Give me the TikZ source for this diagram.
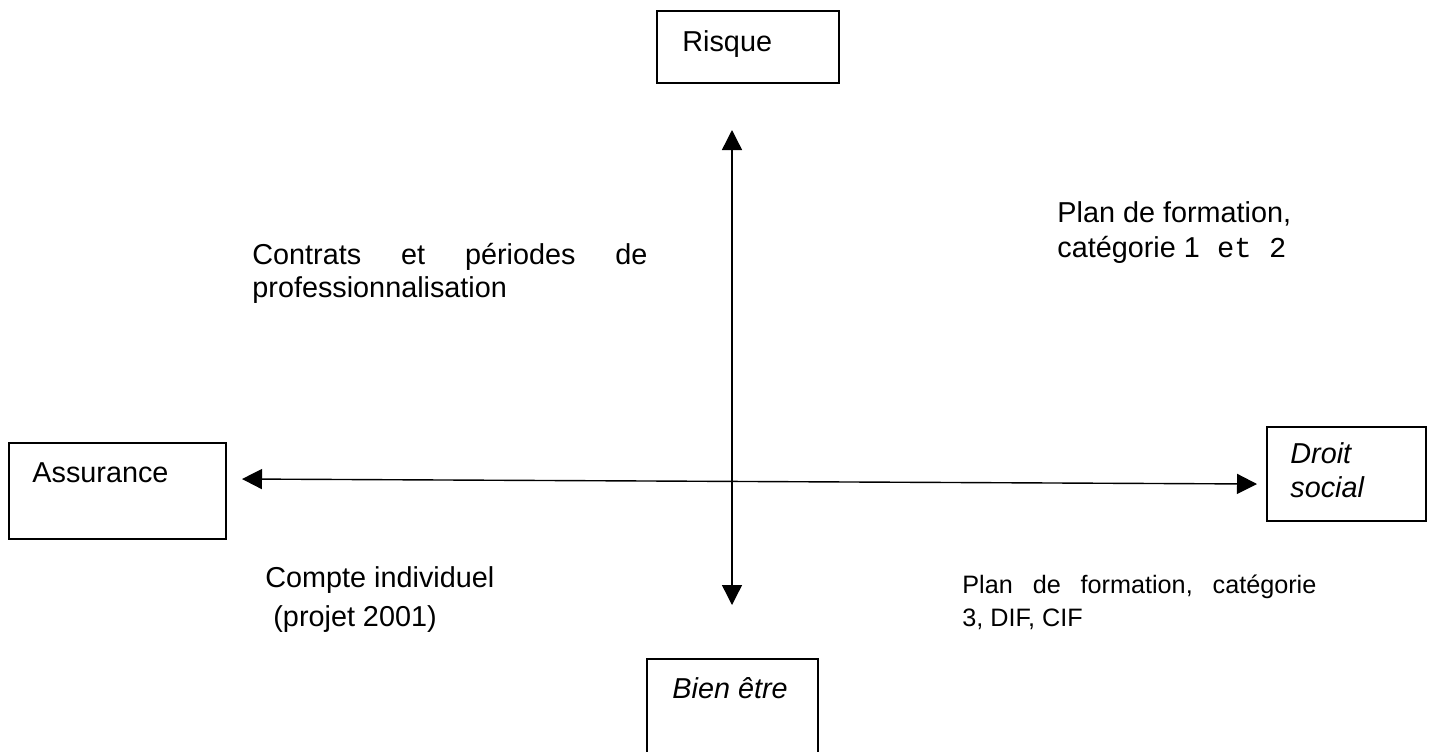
\documentclass[tikz,border=0pt]{standalone}
\usepackage{fontspec}
\setmainfont{Liberation Sans}
\newfontfamily\cour{Liberation Mono}
\usetikzlibrary{arrows.meta}
\begin{document}
\begin{tikzpicture}[x=0.5pt,y=-0.5pt,
  boxstyle/.style={draw, line width=1pt, inner sep=0pt},
  lbl/.style={anchor=base west, inner sep=0pt, font=\fontsize{14.4}{16.5}\selectfont},
  smalllbl/.style={anchor=base west, inner sep=0pt, font=\fontsize{12.6}{15}\selectfont},
  axisline/.style={line width=0.7pt, {Triangle[length=10pt,width=10pt]}-{Triangle[length=10pt,width=10pt]}}]
\useasboundingbox (0,0) rectangle (1432,751);
\clip (0,0) rectangle (1432,751);
% boxes
\node[boxstyle, minimum width=91pt, minimum height=36pt] (risqueBox) at (748,47) {};
\node[boxstyle, minimum width=108.5pt, minimum height=48pt] (assurBox) at (117.5,491) {};
\node[boxstyle, minimum width=79.5pt, minimum height=47pt] (droitBox) at (1346.5,474) {};
\node[boxstyle, minimum width=85.5pt, minimum height=70.5pt] (bienBox) at (732.5,729.5) {};
% box labels
\node[lbl] (risque) at (682,51) {Risque};
\node[lbl] (assur) at (32,482) {Assurance};
\node[lbl] (droit1) at (1290,463) {\itshape Droit};
\node[lbl] (droit2) at (1290,497) {\itshape social};
\node[lbl] (bien) at (672,698) {\itshape Bien être};
% axes
\coordinate (vtop) at (732,130);
\coordinate (vbot) at (732,605);
\coordinate (hleft) at (242,479);
\coordinate (hright) at (1257,484);
\draw[axisline] (vtop) -- (vbot);
\draw[axisline] (hleft) -- (hright);
% quadrant texts
\node[lbl] (contrats1) at (252,264) {\hbox to 197.5pt{Contrats\hfill et\hfill périodes\hfill de}};
\node[lbl] (contrats2) at (252,297) {professionnalisation};
\node[lbl] (plan1) at (1057,222) {Plan de formation,};
\node[lbl] (plan2) at (1057,257) {catégorie 1{\cour{} et 2}};
\node[lbl] (compte1) at (265,587) {Compte individuel};
\node[lbl] (compte2) at (265,626) {\ (projet 2001)};
\node[smalllbl] (planb1) at (962,593) {\hbox to 177pt{Plan\hfill de\hfill formation,\hfill catégorie}};
\node[smalllbl] (planb2) at (962,626) {3, DIF, CIF};
\end{tikzpicture}
\end{document}
